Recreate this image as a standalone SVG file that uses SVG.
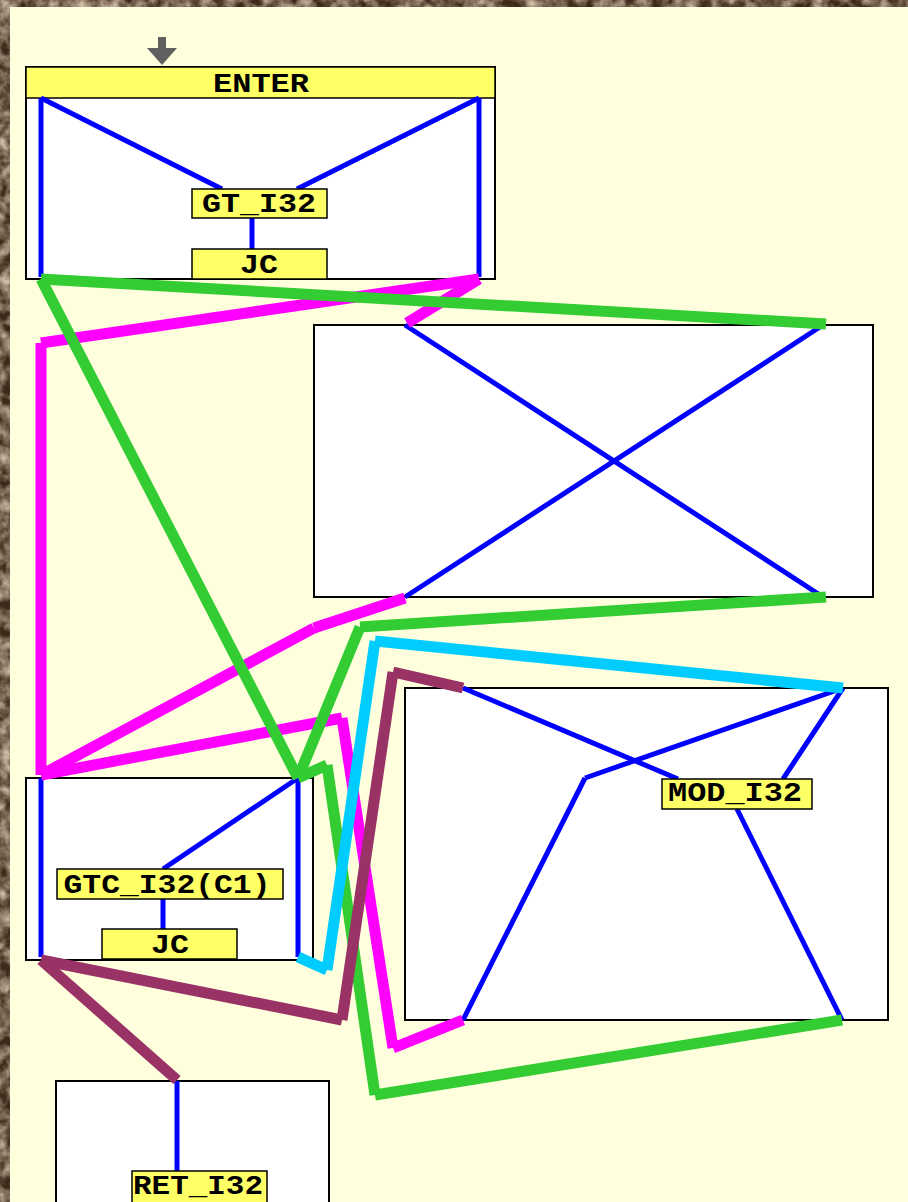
<svg xmlns="http://www.w3.org/2000/svg" width="908" height="1202" viewBox="0 0 908 1202">
<defs>
<filter id="tex" x="0" y="0" width="100%" height="100%">
<feTurbulence type="fractalNoise" baseFrequency="0.08" numOctaves="3" seed="4" result="n"/>
<feColorMatrix in="n" type="matrix" values="0 0 0 0 0.62  0 0 0 0 0.50  0 0 0 0 0.38  0 0 0 -1.8 1.3" result="c"/>
<feComposite in="c" in2="SourceGraphic" operator="in"/>
</filter>
<style>
.node{fill:#ffffff;stroke:#000000;stroke-width:2}
.lbl{fill:#ffff66;stroke:#000000;stroke-width:1.5}
.txt{font-family:"Liberation Mono","Courier New",monospace;font-weight:bold;font-size:28px;fill:#000000;text-anchor:middle}
.b{stroke:#0000ff;stroke-width:5;fill:none;stroke-linecap:butt}
.g{stroke:#33cc33;stroke-width:11;fill:none;stroke-linecap:butt}
.m{stroke:#ff00ff;stroke-width:11;fill:none;stroke-linecap:butt}
.c{stroke:#00ccff;stroke-width:11;fill:none;stroke-linecap:butt}
.r{stroke:#993366;stroke-width:11;fill:none;stroke-linecap:butt}
</style>
</defs>
<rect x="0" y="0" width="908" height="1202" fill="#3e2a1a"/>
<rect x="0" y="0" width="908" height="1202" fill="#a88a6a" filter="url(#tex)"/>
<rect x="10" y="7" width="898" height="1195" fill="#ffffdd"/>

<g id="entry-arrow" fill="#606060">
<rect x="158" y="37" width="8" height="13"/>
<polygon points="147,48 177,48 162,65"/>
</g>

<g id="node-enter">
<rect class="node" x="26" y="67" width="469" height="212"/>
<rect class="lbl" x="26" y="67" width="469" height="31"/>
<text class="txt" x="261" y="92" textLength="96" lengthAdjust="spacingAndGlyphs">ENTER</text>
<line class="b" x1="41" y1="98" x2="41" y2="277"/>
<line class="b" x1="41" y1="98" x2="222" y2="189"/>
<line class="b" x1="479" y1="98" x2="297" y2="189"/>
<line class="b" x1="479" y1="98" x2="479" y2="277"/>
<line class="b" x1="252" y1="218" x2="252" y2="249"/>
<rect class="lbl" x="192" y="189" width="135" height="29"/>
<text class="txt" x="259" y="212" textLength="114" lengthAdjust="spacingAndGlyphs">GT_I32</text>
<rect class="lbl" x="192" y="249" width="135" height="30"/>
<text class="txt" x="259" y="273" textLength="38" lengthAdjust="spacingAndGlyphs">JC</text>
</g>

<g id="node-block2">
<rect class="node" x="314" y="325" width="559" height="272"/>
<line class="b" x1="405" y1="325" x2="823" y2="597"/>
<line class="b" x1="823" y1="325" x2="405" y2="597"/>
</g>

<g id="node-gtc">
<rect class="node" x="26" y="778" width="287" height="182"/>
<line class="b" x1="41" y1="778" x2="41" y2="957"/>
<line class="b" x1="298" y1="778" x2="298" y2="957"/>
<line class="b" x1="298" y1="778" x2="163" y2="869"/>
<line class="b" x1="163" y1="899" x2="163" y2="929"/>
<rect class="lbl" x="57" y="869" width="226" height="30"/>
<text class="txt" x="167" y="893" textLength="207" lengthAdjust="spacingAndGlyphs">GTC_I32(C1)</text>
<rect class="lbl" x="102" y="929" width="135" height="30"/>
<text class="txt" x="170" y="953" textLength="38" lengthAdjust="spacingAndGlyphs">JC</text>
</g>

<g id="node-mod">
<rect class="node" x="405" y="688" width="483" height="332"/>
<line class="b" x1="463" y1="688" x2="678" y2="779"/>
<line class="b" x1="843" y1="688" x2="585" y2="778"/>
<line class="b" x1="585" y1="778" x2="463" y2="1020"/>
<line class="b" x1="843" y1="688" x2="783" y2="779"/>
<line class="b" x1="737" y1="809" x2="842" y2="1020"/>
<rect class="lbl" x="662" y="779" width="150" height="30"/>
<text class="txt" x="735" y="801" textLength="134" lengthAdjust="spacingAndGlyphs">MOD_I32</text>
</g>

<g id="node-ret">
<rect class="node" x="56" y="1081" width="273" height="130"/>
<line class="b" x1="177" y1="1081" x2="177" y2="1172"/>
<rect class="lbl" x="132" y="1171" width="135" height="40"/>
<text class="txt" x="198" y="1194" textLength="130" lengthAdjust="spacingAndGlyphs">RET_I32</text>
</g>

<g id="connectors">
<line class="m" x1="479" y1="279" x2="41" y2="343"/>
<line class="m" x1="479" y1="279" x2="407" y2="323"/>
<line class="m" x1="41" y1="343" x2="41" y2="775"/>
<line class="m" x1="405" y1="598" x2="314" y2="628"/>
<line class="m" x1="314" y1="628" x2="41" y2="775"/>
<line class="m" x1="41" y1="775" x2="342" y2="718"/>
<line class="m" x1="342" y1="718" x2="393" y2="1048"/>
<line class="m" x1="393" y1="1048" x2="463" y2="1020"/>

<line class="g" x1="41" y1="279" x2="826" y2="324"/>
<line class="g" x1="41" y1="279" x2="298" y2="778"/>
<line class="g" x1="826" y1="597" x2="360" y2="627"/>
<line class="g" x1="360" y1="627" x2="298" y2="778"/>
<line class="g" x1="298" y1="778" x2="327" y2="765"/>
<line class="g" x1="327" y1="765" x2="375" y2="1095"/>
<line class="g" x1="375" y1="1095" x2="842" y2="1020"/>

<line class="c" x1="843" y1="688" x2="375" y2="641"/>
<line class="c" x1="375" y1="641" x2="327" y2="970"/>
<line class="c" x1="327" y1="970" x2="298" y2="957"/>

<line class="r" x1="463" y1="688" x2="393" y2="672"/>
<line class="r" x1="393" y1="672" x2="342" y2="1020"/>
<line class="r" x1="342" y1="1020" x2="41" y2="960"/>
<line class="r" x1="41" y1="960" x2="177" y2="1080"/>
</g>
</svg>
